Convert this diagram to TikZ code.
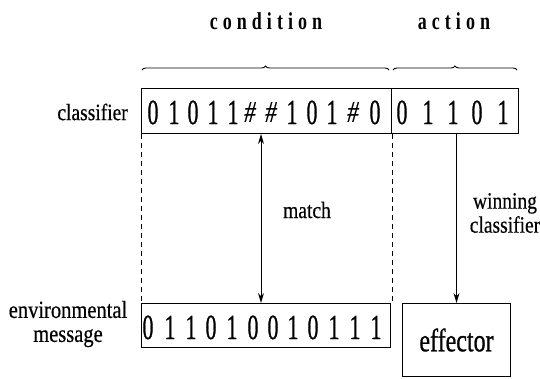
\documentclass[tikz,border=0pt]{standalone}
\usepackage{fontspec}
\setmainfont{Liberation Serif}[FakeBold=0.5]
\newfontfamily\heavyfont{Liberation Serif}[FakeBold=0.9]
\newfontfamily\spacedfont{Liberation Serif}[LetterSpace=28]
\usetikzlibrary{decorations.pathreplacing,arrows.meta}
\newcommand\vstretch[2]{\scalebox{1}[#1]{#2}}
\begin{document}
\begin{tikzpicture}[x=1pt,y=-1pt,
  box/.style={draw, line width=1pt, inner sep=0pt, anchor=north west},
  digit/.style={inner sep=0pt, anchor=base, font=\heavyfont\fontsize{22}{22}\selectfont},
  hash/.style={inner sep=0pt, anchor=center, font=\fontsize{23}{23}\selectfont\itshape},
  lbl/.style={inner sep=0pt, font=\fontsize{19.5}{24}\selectfont, align=center},
  head/.style={inner sep=0pt, font=\spacedfont\fontsize{18}{18}\selectfont\bfseries},
  arr/.style={line width=1pt, -{Stealth[length=10pt,width=6pt]}},
  dbl/.style={line width=1pt, {Stealth[length=10pt,width=6pt]}-{Stealth[length=10pt,width=6pt]}},
  dashline/.style={line width=0.8pt, dash pattern=on 5pt off 4pt},
  bracestyle/.style={line width=0.9pt, decorate, decoration={brace, amplitude=4pt}}]
\useasboundingbox (0,0) rectangle (540,378);

% boxes
\node[box, minimum width=250pt, minimum height=45pt] (cond) at (141,88) {};
\node[box, minimum width=127pt, minimum height=45pt] (act) at (391,88) {};
\node[box, minimum width=249pt, minimum height=44pt] (env) at (141,303) {};
\node[box, minimum width=108pt, minimum height=73pt, font=\heavyfont\fontsize{24}{24}\selectfont] (eff) at (402,303) {\vstretch{1.35}{effector}};

% headings and braces
\node[head] (condhd) at (266,21) {\vstretch{1.35}{condition}};
\node[head] (acthd) at (454,21) {\vstretch{1.35}{action}};
\draw[bracestyle] (142,70) -- (389,70);
\draw[bracestyle] (393,70) -- (517,70);

% classifier condition digits
\foreach \x/\t [count=\i] in {153/0,174/1,193/0,213/1,233/1,292/1,312/0,332/1,375/0}
  \node[digit] (c\i) at (\x,124) {\vstretch{1.6}{\t}};
\foreach \x [count=\i] in {250,271,353}
  \node[hash] (h\i) at (\x,112) {\vstretch{1.3}{\#}};
% action digits
\foreach \x/\t [count=\i] in {402/0,428/1,453/1,477/0,503/1}
  \node[digit] (a\i) at (\x,124) {\vstretch{1.6}{\t}};
% environmental message digits
\foreach \x/\t [count=\i] in {148/0,170/1,191/1,211/0,232/1,253/0,273/0,293/1,313/0,334/1,355/1,376/1}
  \node[digit] (e\i) at (\x,339) {\vstretch{1.6}{\t}};

% labels
\node[lbl, anchor=east] (clslbl) at (128,112) {\vstretch{1.2}{classifier}};
\node[lbl, font=\fontsize{20.5}{24}\selectfont] (envlbl) at (68,324) {\vstretch{1.2}{environmental}\\\vstretch{1.2}{message}};
\node[lbl] (matchlbl) at (307,210) {\vstretch{1.2}{match}};
\node[lbl] (winlbl) at (505,213) {\vstretch{1.2}{winning}\\\vstretch{1.2}{classifier}};

% connectors
\coordinate (m) at (261,0);
\draw[dashline] (cond.south west) -- (env.north west);
\draw[dashline] (cond.south east) -- (cond.south east |- env.north);
\draw[dbl] (cond.south -| m) -- (env.north -| m);
\draw[arr] (eff.north |- act.south) -- (eff.north);
\end{tikzpicture}
\end{document}
